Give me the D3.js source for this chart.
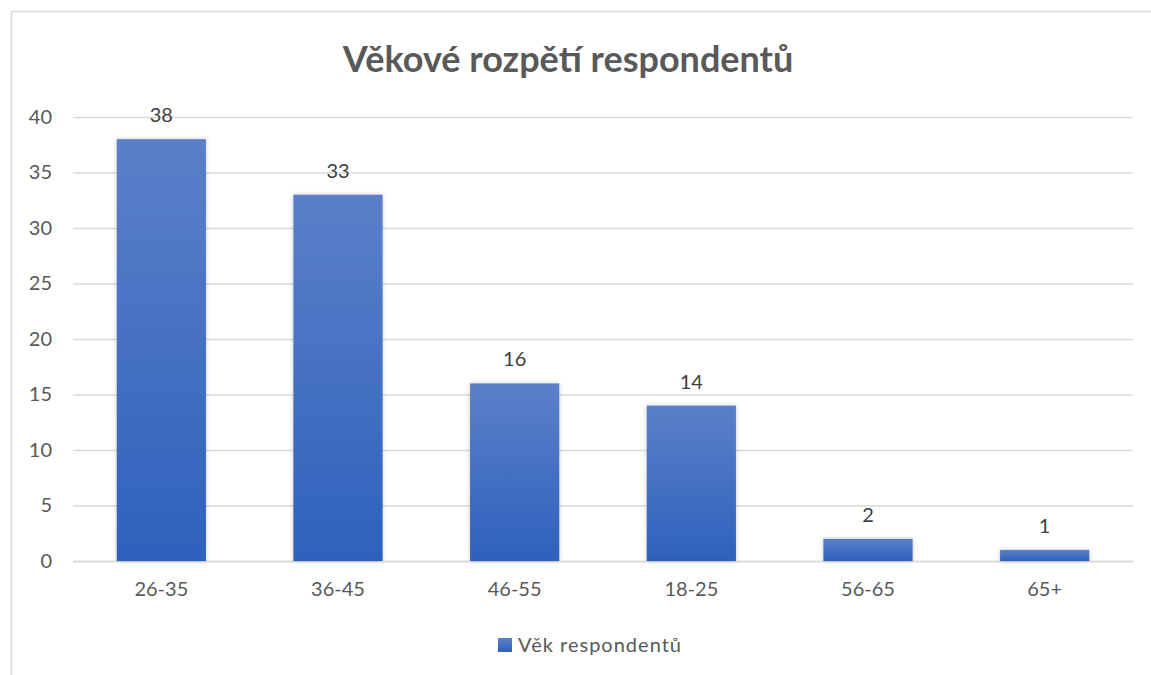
<!DOCTYPE html>
<html>
<head>
<meta charset="utf-8">
<script src="https://cdn.jsdelivr.net/npm/d3@7"></script>
<style>
  html, body { margin: 0; padding: 0; background: #ffffff; }
  svg { display: block; font-family: Lato, 'Open Sans', sans-serif; }
</style>
</head>
<body>
<svg id="chart"></svg>
<script>
// Chart data
let categories = ['26-35', '36-45', '46-55', '18-25', '56-65', '65+'];
let values = [38, 33, 16, 14, 2, 1];
let yTicks = [0, 5, 10, 15, 20, 25, 30, 35, 40];
let seriesName = 'Věk respondentů';
let titleText = 'Věkové rozpětí respondentů';

// SVG size
let width = 1151, height = 675;
let plotLeft = 73, plotRight = 1133, plotTop = 117, plotBottom = 561;
let fontFamily = "Lato, 'Open Sans', sans-serif";

let svg = d3.select('#chart')
    .attr('width', width)
    .attr('height', height);

// Scales
let xScale = d3.scaleBand()
    .domain(categories)
    .range([plotLeft, plotRight])
    .paddingInner(0.495)
    .paddingOuter(0.2475);

let yScale = d3.scaleLinear()
    .domain([0, 40])
    .range([plotBottom, plotTop]);

// Gradient and shadow for bars
let defs = svg.append('defs');
let grad = defs.append('linearGradient')
    .attr('id', 'barGrad')
    .attr('x1', 0).attr('y1', 0)
    .attr('x2', 0).attr('y2', 1);
grad.append('stop').attr('offset', '0%').attr('stop-color', '#5b80c8');
grad.append('stop').attr('offset', '100%').attr('stop-color', '#2e61bc');

let shadow = defs.append('filter')
    .attr('id', 'barShadow')
    .attr('x', '-20%').attr('y', '-20%')
    .attr('width', '140%').attr('height', '140%');
shadow.append('feDropShadow')
    .attr('dx', 0).attr('dy', 0)
    .attr('stdDeviation', 2)
    .attr('flood-color', '#000000')
    .attr('flood-opacity', 0.22);

// Outer chart border
svg.append('rect')
    .attr('x', 11.5)
    .attr('y', 11.5)
    .attr('width', 1160)
    .attr('height', 700)
    .attr('fill', '#ffffff')
    .attr('stroke', '#d9d9d9')
    .attr('stroke-width', 1.5);

// Title
svg.append('text')
    .attr('x', 568)
    .attr('y', 72)
    .attr('text-anchor', 'middle')
    .attr('font-size', 36)
    .attr('font-weight', 'bold')
    .attr('fill', '#595959')
    .text(titleText);

// Y axis (gridlines + labels)
let yAxis = d3.axisLeft(yScale)
    .tickValues(yTicks)
    .tickSize(-(plotRight - plotLeft))
    .tickPadding(21);

let yAxisG = svg.append('g')
    .attr('transform', `translate(${plotLeft}, 0)`)
    .call(yAxis);
yAxisG.select('.domain').remove();
yAxisG.selectAll('line')
    .attr('stroke', '#d9d9d9')
    .attr('stroke-width', 1.5);
yAxisG.selectAll('text')
    .attr('font-size', 20)
    .attr('font-family', fontFamily)
    .attr('fill', '#595959');

// X axis
let xAxis = d3.axisBottom(xScale)
    .tickSize(0)
    .tickPadding(21);

let xAxisG = svg.append('g')
    .attr('transform', `translate(0, ${plotBottom})`)
    .call(xAxis);
xAxisG.select('.domain')
    .attr('stroke', '#d9d9d9')
    .attr('stroke-width', 1.5);
xAxisG.selectAll('text')
    .attr('font-size', 20)
    .attr('font-family', fontFamily)
    .attr('fill', '#595959');

// Bars
svg.append('g')
    .selectAll('rect')
    .data(values)
    .enter()
    .append('rect')
    .attr('x', (d, i) => xScale(categories[i]))
    .attr('y', (d) => yScale(d))
    .attr('width', xScale.bandwidth())
    .attr('height', (d) => yScale(0) - yScale(d))
    .attr('fill', 'url(#barGrad)')
    .attr('filter', 'url(#barShadow)');

// Data labels
svg.append('g')
    .selectAll('text')
    .data(values)
    .enter()
    .append('text')
    .attr('x', (d, i) => xScale(categories[i]) + xScale.bandwidth() / 2)
    .attr('y', (d) => yScale(d) - 17)
    .attr('text-anchor', 'middle')
    .attr('font-size', 20)
    .attr('fill', '#404040')
    .text((d) => d);

// Legend
let legend = svg.append('g');
legend.append('rect')
    .attr('x', 498)
    .attr('y', 638)
    .attr('width', 14)
    .attr('height', 14)
    .attr('fill', 'url(#barGrad)');
legend.append('text')
    .attr('x', 518)
    .attr('y', 652)
    .attr('font-size', 20)
    .attr('letter-spacing', 1)
    .attr('fill', '#595959')
    .text(seriesName);
</script>
</body>
</html>
